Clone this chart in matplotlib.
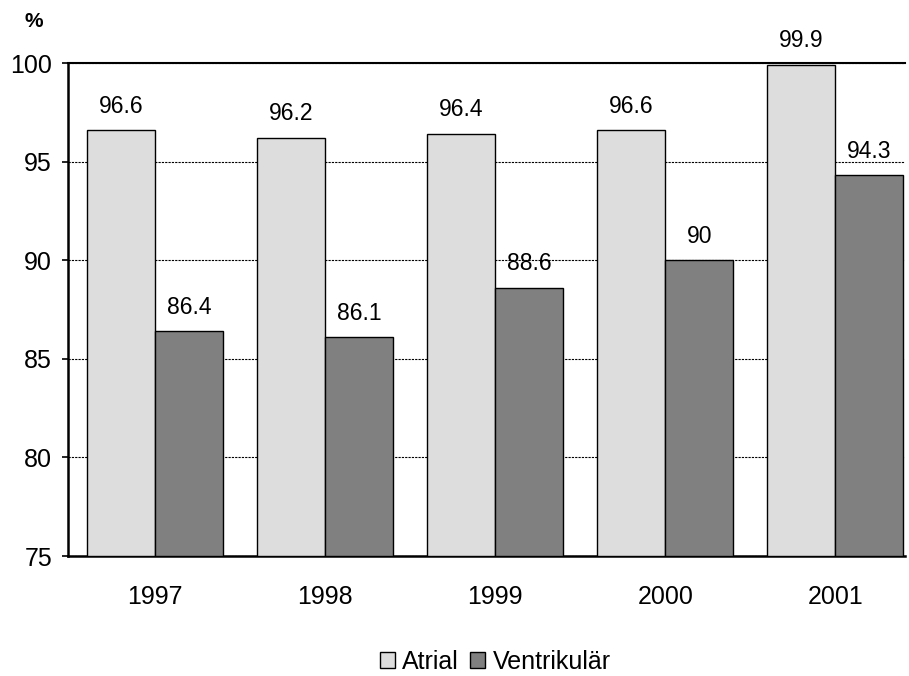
import matplotlib
matplotlib.use('Agg')
import matplotlib.pyplot as plt
import numpy as np

plt.rcParams['font.family'] = ['Liberation Sans', 'DejaVu Sans']

years = ['1997', '1998', '1999', '2000', '2001']
atrial = [96.6, 96.2, 96.4, 96.6, 99.9]
ventrikular = [86.4, 86.1, 88.6, 90, 94.3]
series_names = ['Atrial', 'Ventrikulär']

fig = plt.figure(figsize=(9.09, 6.76), dpi=100)
ax = fig.add_axes([0.0748, 0.1775, 0.921, 0.7293])

x = np.arange(len(years))
w = 0.4
b1 = ax.bar(x - w / 2, np.array(atrial) - 75, w, bottom=75, color='#dddddd',
            edgecolor='black', linewidth=1, label=series_names[0], zorder=3)
b2 = ax.bar(x + w / 2, np.array(ventrikular) - 75, w, bottom=75, color='#808080',
            edgecolor='black', linewidth=1, label=series_names[1], zorder=3)

for xs, vals in [(x - w / 2, atrial), (x + w / 2, ventrikular)]:
    for xi, v in zip(xs, vals):
        ax.annotate(f'{v:g}', (xi, v), xytext=(0, 9), textcoords='offset points',
                    ha='center', va='bottom', fontsize=16.5)

ax.set_ylim(75, 100)
ax.set_xlim(-0.51, 4.41)
ax.set_yticks([75, 80, 85, 90, 95, 100])
ax.set_xticks(x)
ax.set_xticklabels(years)
ax.tick_params(axis='y', labelsize=18, length=4.5, width=1.2, direction='out', pad=7)
ax.tick_params(axis='x', labelsize=18, length=0, pad=21)

ax.yaxis.grid(True, color='black', linestyle=(0, (2, 1)), linewidth=0.8, zorder=0)
ax.set_axisbelow(True)
ax.spines['right'].set_visible(False)
ax.spines['left'].set_linewidth(1.8)
ax.spines['bottom'].set_linewidth(1.8)
ax.spines['top'].set_linewidth(1.5)

fig.text(0.0275, 0.968, '%', fontsize=15, fontweight='bold', ha='left', va='center')

fig.legend(handles=[b1, b2], loc='center', bbox_to_anchor=(0.545, 0.021),
           ncol=2, frameon=False, fontsize=18, handlelength=0.6, handleheight=0.6,
           handletextpad=0.3, columnspacing=0.45)

fig.savefig('out.png', dpi=100)
